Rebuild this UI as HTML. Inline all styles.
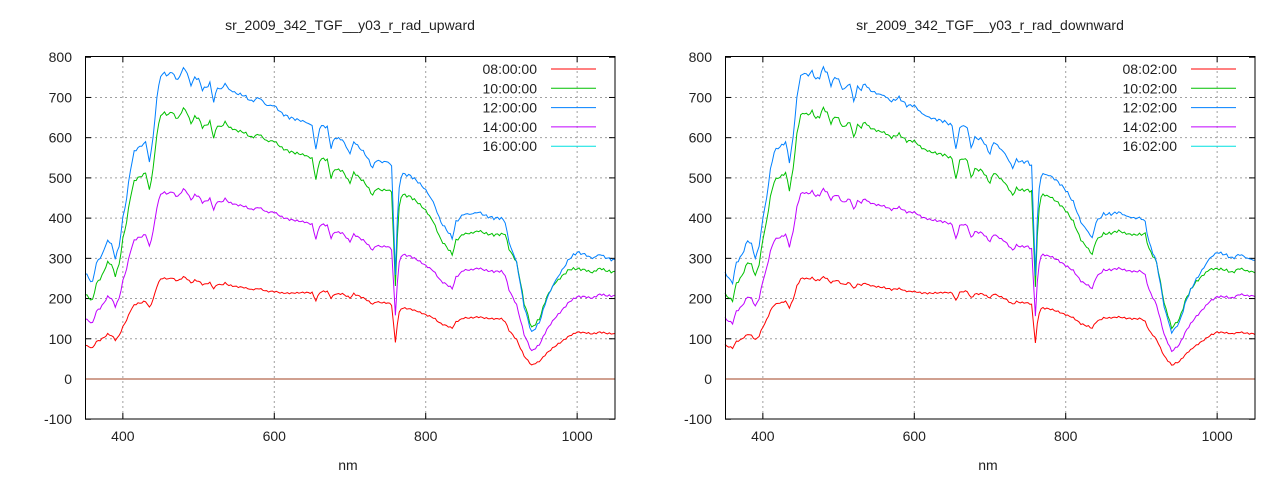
<!DOCTYPE html>
<html><head><meta charset="utf-8"><style>
html,body{margin:0;padding:0;background:#fff;width:1280px;height:480px;overflow:hidden}
svg{display:block}
text{font-family:"Liberation Sans",sans-serif;font-size:14px;fill:#222}
</style></head><body>
<svg id="s" width="1280" height="480" xmlns="http://www.w3.org/2000/svg"></svg>
<script>
const S=document.getElementById('s');
const blue=[[350,265],[355,250],[360,240],[365,290],[370,300],[375,320],[380,345],[385,335],[390,300],[395,330],[400,400],[405,450],[410,520],[415,565],[420,575],[425,580],[430,590],[435,540],[440,600],[445,700],[450,755],[455,760],[460,755],[465,765],[470,745],[475,750],[480,775],[485,760],[490,730],[495,750],[500,745],[505,720],[510,725],[515,735],[520,690],[525,725],[530,720],[535,735],[540,720],[550,710],[560,705],[570,690],[580,700],[590,680],[600,680],[610,660],[620,650],[630,645],[640,640],[650,630],[655,570],[660,625],[665,630],[670,625],[675,575],[680,600],[690,595],[700,560],[705,590],[710,580],[720,560],[730,525],[735,545],[740,540],[750,540],[755,530],[757,420],[760,260],[763,420],[766,500],[770,510],[780,505],[790,490],[800,470],[810,440],[820,390],[830,365],[835,350],[840,390],[850,410],[860,410],[870,415],[880,405],[890,400],[900,400],[905,390],[910,340],[920,290],[930,180],[940,115],[950,140],[960,200],[970,240],[980,270],[990,300],[1000,315],[1010,310],[1020,300],[1030,310],[1040,300],[1050,295]];
function interp(a,x){for(let i=0;i<a.length-1;i++){if(x<=a[i+1][0]){const t=(x-a[i][0])/(a[i+1][0]-a[i][0]);return a[i][1]+t*(a[i+1][1]-a[i][1]);}}return a[a.length-1][1];}
const ratios={
 g:[[350,0.8],[400,0.87],[750,0.87],[765,0.9],[850,0.88],[900,0.9],[940,1.1],[1000,0.87],[1050,0.9]],
 m:[[350,0.57],[400,0.61],[750,0.61],[800,0.6],[850,0.66],[900,0.67],[940,0.6],[1000,0.65],[1050,0.7]],
 r:[[350,0.32],[450,0.33],[600,0.32],[700,0.36],[800,0.34],[850,0.37],[900,0.375],[940,0.3],[1000,0.37],[1050,0.38]]};
function ns(x,seed){return Math.sin(x*1.7+seed)*0.5+Math.sin(x*0.93+seed*2)*0.5;}
function add(tag,attrs,txt){const e=document.createElementNS('http://www.w3.org/2000/svg',tag);for(const k in attrs)e.setAttribute(k,attrs[k]);if(txt!==undefined)e.textContent=txt;S.appendChild(e);return e;}
function chart(ox,title,suffix,seed){
 const X=nm=>85+ox+(nm-350)*530/700, Y=v=>379-v*0.4022;
 for(let v=-100;v<=800;v+=100){if(v>-100&&v<800)add('line',{x1:85+ox,x2:615+ox,y1:Y(v),y2:Y(v),stroke:'#a0a0a0','stroke-dasharray':'2,3'});
  add('text',{x:72+ox,y:Y(v)+5,'text-anchor':'end'},v);
  add('line',{x1:85+ox,x2:91+ox,y1:Y(v),y2:Y(v),stroke:'#000'});add('line',{x1:609+ox,x2:615+ox,y1:Y(v),y2:Y(v),stroke:'#000'});}
 for(let n=400;n<=1000;n+=200){add('line',{x1:X(n),x2:X(n),y1:56,y2:419,stroke:'#a0a0a0','stroke-dasharray':'2,3'});
  add('text',{x:X(n),y:441,'text-anchor':'middle'},n);
  add('line',{x1:X(n),x2:X(n),y1:413,y2:419,stroke:'#000'});add('line',{x1:X(n),x2:X(n),y1:56,y2:62,stroke:'#000'});}
 add('line',{x1:85+ox,x2:615+ox,y1:379,y2:379,stroke:'#a04020'});
 const ser=[['r','#ff0000'],['g','#00c000'],['b','#0080ff'],['m','#c000ff']];
 for(const [k,c] of ser){let d='';for(let n=350;n<=1050;n+=2.5){let b=interp(blue,n)+ns(n,seed)*4;let v=k=='b'?b:b*interp(ratios[k],n)+ns(n,seed+3)*2;d+=(d?'L':'M')+X(n).toFixed(1)+','+Y(v).toFixed(1);}
  add('path',{d:d,fill:'none',stroke:c,'stroke-width':1});}
 add('rect',{x:85.5+ox,y:56.5,width:529.5,height:362.5,fill:'none',stroke:'#000'});
 add('text',{x:350+ox,y:30,'text-anchor':'middle'},title);
 add('text',{x:348+ox,y:470,'text-anchor':'middle'},'nm');
 const labs=['08','10','12','14','16'],cols=['#ff0000','#00c000','#0080ff','#c000ff','#00e0e0'];
 labs.forEach((l,i)=>{const y=69+i*19.3;add('text',{x:537+ox,y:y+5,'text-anchor':'end'},l+suffix);
  add('line',{x1:551+ox,x2:596+ox,y1:y,y2:y,stroke:cols[i]});});
}
chart(0,'sr_2009_342_TGF__y03_r_rad_upward',':00:00',0);
chart(640,'sr_2009_342_TGF__y03_r_rad_downward',':02:00',1.3);
</script>
</body></html>
